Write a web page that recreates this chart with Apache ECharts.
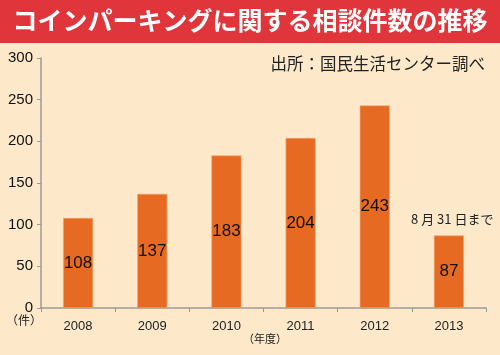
<!DOCTYPE html>
<html><head><meta charset="utf-8">
<script src="https://cdn.jsdelivr.net/npm/echarts@6/dist/echarts.min.js"></script>
<style>html,body{margin:0;padding:0;background:#fde9c9;}#c{width:500px;height:355px;}</style>
</head><body><div id="c"></div>
<script>
const categories = ['2008','2009','2010','2011','2012','2013'];
const values = [108,137,183,204,243,87];
const yTicks = [0,50,100,150,200,250,300];
const titleText = 'コインパーキングに関する相談件数の推移';
const sourceText = '出所：国民生活センター調べ';
const noteText = '8 月 31 日まで';
const yUnit = '（件）';
const xUnit = '（年度）';

const chart = echarts.init(document.getElementById('c'));
const jp = '"Noto Sans CJK JP", sans-serif';
chart.setOption({
  backgroundColor: '#fde9c9',
  animation: false,
  grid: {left: 41, right: 14, top: 58, bottom: 47},
  xAxis: {
    type: 'category', data: categories,
    axisLine: {lineStyle: {color: '#9a9a9a', width: 1.5}},
    axisTick: {show: true, length: 4, lineStyle: {color: '#9a9a9a'}},
    axisLabel: {color: '#222', fontSize: 13, margin: 12, fontFamily: 'Liberation Sans, sans-serif'}
  },
  yAxis: {
    type: 'value', min: yTicks[0], max: yTicks[yTicks.length-1], interval: 50,
    splitLine: {show: false},
    axisLine: {show: true, lineStyle: {color: '#9a9a9a', width: 1.5}},
    axisTick: {show: true, length: 4, lineStyle: {color: '#9a9a9a'}},
    axisLabel: {color: '#111', fontSize: 15, margin: 8, fontFamily: 'Liberation Sans, sans-serif'}
  },
  series: [{
    type: 'bar', data: values, barWidth: 30,
    itemStyle: {color: '#e66a22', borderColor: '#f5a66c', borderWidth: 0.6},
    label: {show: true, position: 'inside', color: '#111', fontSize: 17, fontFamily: 'Liberation Sans, sans-serif'}
  }],
  graphic: [
    {type: 'rect', left: 0, top: 0, shape: {width: 500, height: 43}, style: {fill: '#e0353b'}, z: 10},
    {type: 'text', left: 'center', top: 8, style: {text: titleText, fill: '#fff', font: 'bold 25px ' + jp}, z: 11},
    {type: 'text', right: 15, top: 55, style: {text: sourceText, fill: '#222', font: '16.5px ' + jp}},
    {type: 'text', left: 411, top: 213, style: {text: noteText, fill: '#222', font: '13px ' + jp}},
    {type: 'text', left: 6, top: 314, style: {text: yUnit, fill: '#222', font: '12px ' + jp}},
    {type: 'text', left: 243, top: 333, style: {text: xUnit, fill: '#222', font: '11px ' + jp}}
  ]
});
</script></body></html>
